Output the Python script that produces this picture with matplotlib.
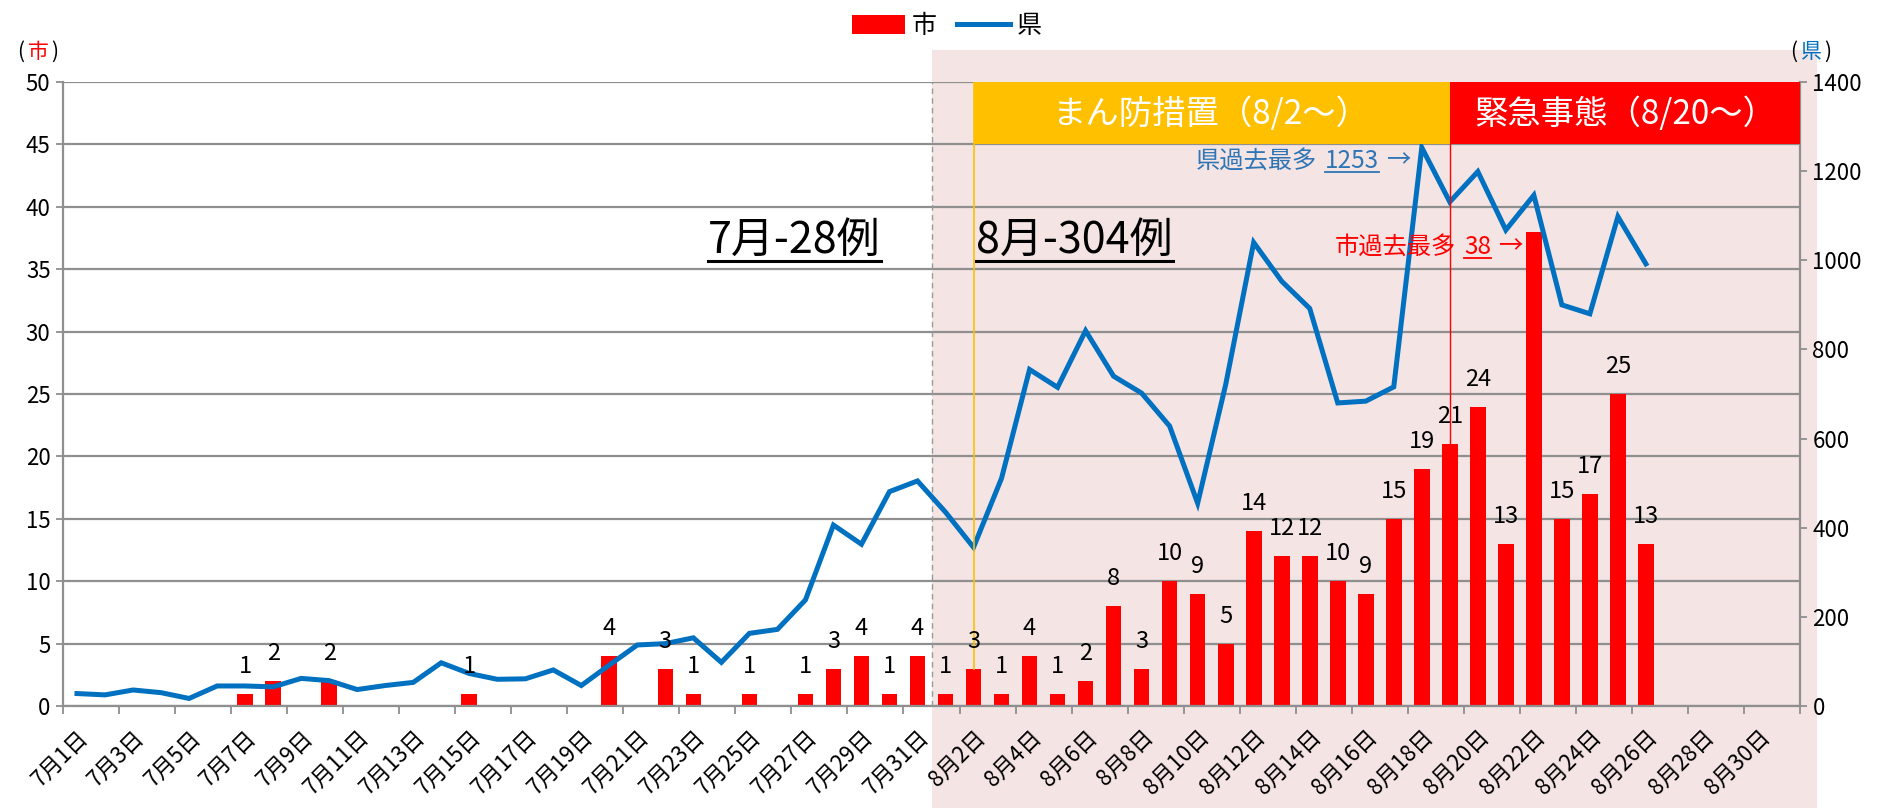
import numpy as np
import matplotlib
matplotlib.use("Agg")
import matplotlib.pyplot as plt
from matplotlib.patches import Rectangle
from matplotlib.lines import Line2D
from matplotlib.transforms import IdentityTransform

plt.rcParams['font.family'] = ['Liberation Sans Narrow', 'Noto Sans CJK JP', 'DejaVu Sans']

## Data ##
dates = [f"7月{d}日" for d in range(1, 32)] + [f"8月{d}日" for d in range(1, 32)]

# 市 daily cases (left axis)
city = [0, 0, 0, 0, 0, 0, 1, 2, 0, 2, 0, 0, 0, 0, 1, 0, 0, 0, 0, 4,
        0, 3, 1, 0, 1, 0, 1, 3, 4, 1, 4,
        1, 3, 1, 4, 1, 2, 8, 3, 10, 9, 5, 14, 12, 12, 10, 9, 15, 19, 21, 24,
        13, 38, 15, 17, 25, 13]

# 県 daily cases (right axis)
pref = [28, 25, 36, 30, 17, 45, 45, 43, 62, 57, 37, 46, 53, 97, 73, 60, 61, 81, 46, 92,
        137, 140, 153, 98, 163, 172, 238, 406, 363, 481, 505,
        435, 356, 511, 755, 715, 842, 740, 702, 628, 455, 721, 1040, 953, 892, 680, 684, 716,
        1253, 1131, 1199, 1068, 1146, 900, 880, 1098, 992]

left_ticks = list(range(0, 55, 5))
right_ticks = list(range(0, 1600, 200))

BLUE = '#0070c0'
RED = '#ff0000'
ORANGE = '#ffc000'
PINK = '#f5e4e4'
GRID = '#8f8f8f'

fig = plt.figure(figsize=(18.83, 8.08), dpi=100)
ax = fig.add_axes([0.03346, 0.1262, 0.92246, 0.7723])
ax.patch.set_alpha(0)

# pink background for August (extends outside the axes)
x_pink = 0.03346 + 0.92246 * 31 / 62
fig.patches.append(Rectangle((x_pink, 0), 0.965 - x_pink, 0.938, transform=fig.transFigure,
                             facecolor=PINK, edgecolor='none', zorder=-5))

n = len(dates)
x = np.arange(n)
ax.bar(x[:len(city)], city, width=0.56, color=RED, zorder=2)

ax.set_xlim(-0.5, n - 0.5)
ax.set_ylim(0, 50)
ax.set_yticks(left_ticks)
ax.yaxis.grid(True, color=GRID, lw=1.6)
ax.set_axisbelow(True)
ax.set_xticks(x[::2])
ax.set_xticklabels(dates[::2], rotation=45, ha='right', rotation_mode='anchor', fontsize=16)
ax.set_xticks(np.arange(-0.5, n, 2), minor=True)
ax.tick_params(axis='x', which='major', length=0, pad=14)
ax.tick_params(axis='x', which='minor', length=6, color=GRID, width=1.3)
ax.tick_params(axis='y', length=5, color=GRID, width=1.3, labelsize=16, pad=4)
for s in ['top', 'right']:
    ax.spines[s].set_visible(False)
for s in ['left', 'bottom']:
    ax.spines[s].set_color(GRID)
    ax.spines[s].set_linewidth(1.6)

ax.axvline(30.5, color='#999999', lw=1, ls=(0, (4, 3)), zorder=1)

ax2 = ax.twinx()
ax2.plot(x[:len(pref)], pref, color=BLUE, lw=3.6, solid_joinstyle='miter', zorder=3)
ax2.set_ylim(0, 1400)
ax2.set_yticks(right_ticks)
ax2.tick_params(axis='y', length=5, color=GRID, width=1.3, labelsize=16, pad=4)
for s in ['top', 'left', 'bottom']:
    ax2.spines[s].set_visible(False)
ax2.spines['right'].set_color(GRID)
ax2.spines['right'].set_linewidth(1.6)

# data labels above bars
for i, v in enumerate(city):
    if v > 0 and v != 38:
        ax2.text(i, v + 2.2, str(v), transform=ax.transData, ha='center', va='center',
                 fontsize=17, zorder=6)

# まん防 / 緊急事態 boxes and vertical markers
ax2.plot([32, 32], [city[32], 50], color=ORANGE, lw=1.2, transform=ax.transData, zorder=4)
ax2.plot([49, 49], [city[49], 45], color=RED, lw=1, transform=ax.transData, zorder=4)
ax2.add_patch(Rectangle((32, 45), 17, 5, transform=ax.transData, facecolor=ORANGE,
                        edgecolor='none', zorder=5))
ax2.add_patch(Rectangle((49, 45), 12.5, 5, transform=ax.transData, facecolor=RED,
                        edgecolor='none', zorder=5))
ax2.text(40.5, 47.4, 'まん防措置（8/2～）', transform=ax.transData, ha='center', va='center',
         color='white', fontsize=24, zorder=6)
ax2.text(55.25, 47.4, '緊急事態（8/20～）', transform=ax.transData, ha='center', va='center',
         color='white', fontsize=24, zorder=6)

renderer = fig.canvas.get_renderer()


def rich(xy, trans, pieces, size, ha='left', va='center', lw=1.5):
    # pieces: (text, color, underline, gap_px)
    x0, y0 = trans.transform(xy)
    cur = x0
    items = []
    for s, color, ul, gap in pieces:
        cur += gap
        t = fig.text(cur, y0, s, color=color, fontsize=size, ha='left', va=va,
                     transform=IdentityTransform(), zorder=7)
        bb = t.get_window_extent(renderer)
        cur = bb.x1
        items.append((t, color, ul))
    shift = 0
    if ha == 'right':
        shift = x0 - cur
    elif ha == 'center':
        shift = (x0 - cur) / 2
    for t, color, ul in items:
        px, py = t.get_position()
        t.set_position((px + shift, py))
        if ul:
            bb = t.get_window_extent(renderer)
            fig.add_artist(Line2D([bb.x0, bb.x1], [bb.y0 + 2, bb.y0 + 2], color=color, lw=lw,
                                  transform=IdentityTransform(), zorder=7))


rich((25.6, 37.3), ax.transData, [('7月-28例', 'black', True, 0)], 31, ha='center', lw=2.2)
rich((35.6, 37.3), ax.transData, [('8月-304例', 'black', True, 0)], 31, ha='center', lw=2.2)

rich((47.6, 43.7), ax.transData,
     [('県過去最多', '#2e75b6', False, 0), ('1253', '#2e75b6', True, 8), ('→', '#2e75b6', False, 7)],
     17.5, ha='right', lw=1.3)
rich((51.6, 36.8), ax.transData,
     [('市過去最多', RED, False, 0), ('38', RED, True, 8), ('→', RED, False, 7)],
     17.5, ha='right', lw=1.3)

# axis unit titles
rich((38, 756), IdentityTransform(), [('(', 'black', False, 0), ('市', RED, False, 3), (')', 'black', False, 3)], 15, ha='center')
rich((1811, 756), IdentityTransform(), [('(', 'black', False, 0), ('県', BLUE, False, 3), (')', 'black', False, 3)], 15, ha='center')

# legend
handles = [Rectangle((0, 0), 1, 1, facecolor=RED, edgecolor='none'),
           Line2D([], [], color=BLUE, lw=3.6)]
fig.legend(handles, ['市', '県'], loc='center', bbox_to_anchor=(0.503, 0.968), ncol=2,
           frameon=False, fontsize=18, handlelength=2.1, handleheight=0.8,
           columnspacing=0.8, handletextpad=0.3)

fig.savefig('out.png', dpi=100)
